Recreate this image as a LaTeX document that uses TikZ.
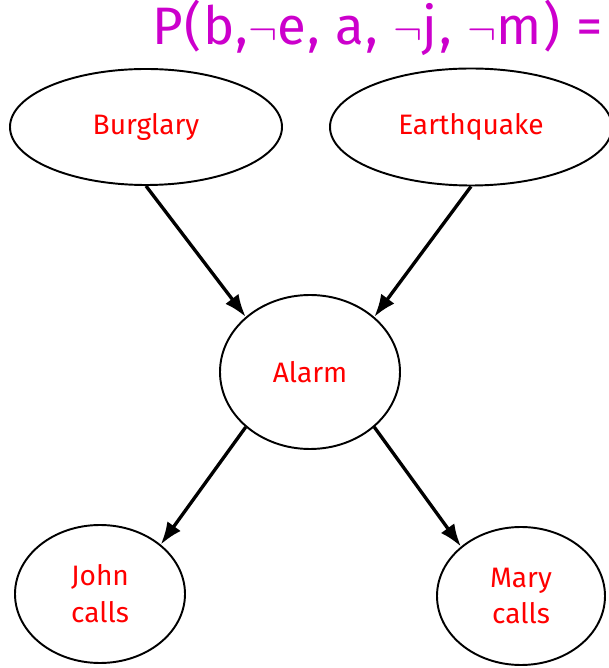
\documentclass[tikz,border=0pt]{standalone}
\usepackage{fontspec}
\setmainfont{Fira Sans}
\usepackage{xcolor}
\usetikzlibrary{shapes.geometric, arrows.meta, positioning}
\definecolor{titlemag}{HTML}{CC00CC}
\tikzset{
    var/.style={ellipse, draw, line width=1.1pt, inner sep=0pt, text=red, align=center, font=\fontsize{16}{21}\selectfont},
    dep/.style={-{Latex[length=4.5mm, width=3.3mm]}, line width=1.9pt},
}

\begin{document}
\begin{tikzpicture}
\useasboundingbox (0,0) rectangle (12.18,13.36);
\clip (0,0) rectangle (12.18,13.36);

% Title
\node[anchor=base west, inner sep=0pt, text=titlemag, font=\fontsize{30}{36}\selectfont\addfontfeatures{LetterSpace=3}] (title) at (3.04,12.46) {P(b,$\neg$e, a, $\neg$j, $\neg$m) =};

% Variables
\node[var, minimum width=5.44cm, minimum height=2.32cm] (burg) at (2.92,10.82) {Burglary};
\node[var, minimum width=5.64cm, minimum height=2.34cm] (earth) at (9.42,10.82) {Earthquake};
\node[var, minimum width=3.6cm, minimum height=3.08cm] (alarm) at (6.20,5.92) {Alarm};
\node[var, minimum width=3.4cm, minimum height=2.76cm] (john) at (2.00,1.48) {John\\calls};
\node[var, minimum width=3.36cm, minimum height=2.76cm] (mary) at (10.42,1.44) {Mary\\calls};

% Dependencies
\draw[dep] (burg.south) -- (alarm.north west);
\draw[dep] (earth.south) -- (alarm.north east);
\draw[dep] (alarm.south west) -- (john.north east);
\draw[dep] (alarm.south east) -- (mary.north west);

\end{tikzpicture}
\end{document}
